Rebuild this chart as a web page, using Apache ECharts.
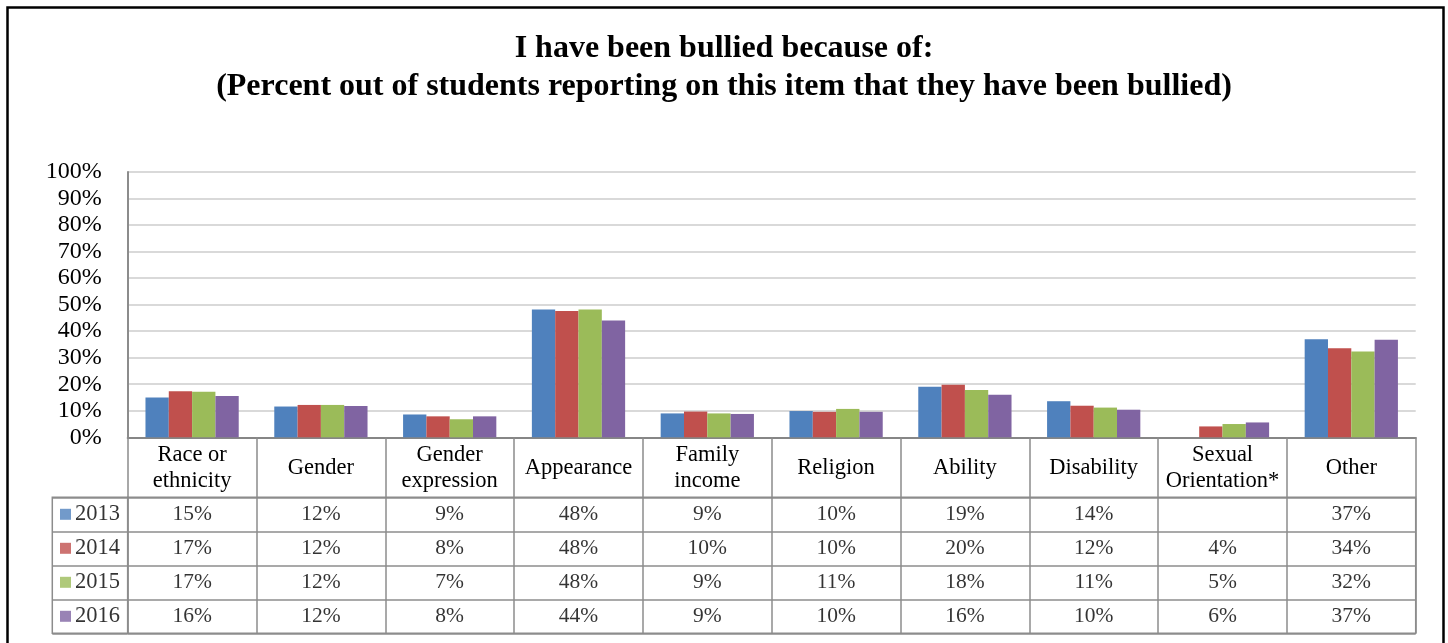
<!DOCTYPE html>
<html>
<head>
<meta charset="utf-8">
<script src="https://cdn.jsdelivr.net/npm/echarts@6/dist/echarts.min.js"></script>
<style>
  html, body { margin: 0; padding: 0; background: #fff; }
  #chart { width: 1448px; height: 643px; }
</style>
</head>
<body>
<div id="chart"></div>
<script>
// ---- data ----
const categories = ['Race or\nethnicity', 'Gender', 'Gender\nexpression', 'Appearance', 'Family\nincome',
                    'Religion', 'Ability', 'Disability', 'Sexual\nOrientation*', 'Other'];
const years = ['2013', '2014', '2015', '2016'];
const v2013 = [15.0, 11.6, 8.6, 48.2, 9.0, 9.9, 19.1, 13.6, null, 37.0];
const v2014 = [17.4, 12.2, 7.9, 47.6, 9.7, 9.6, 19.8, 11.9, 4.1, 33.6];
const v2015 = [17.2, 12.2, 6.8, 48.2, 9.0, 10.7, 17.8, 11.2, 5.0, 32.3];
const v2016 = [15.6, 11.8, 7.9, 44.0, 8.8, 9.6, 16.0, 10.4, 5.6, 36.8];
const seriesValues = [v2013, v2014, v2015, v2016];
const colors = ['#4F81BD', '#C0504D', '#9BBB59', '#8064A2'];
const titleText = 'I have been bullied because of:\n(Percent out of students reporting on this item that they have been bullied)';

// ---- layout ----
const W = 1448, H = 643;
const plotLeft = 127.7, plotRight = 1415.7, plotTop = 172, axisY = 437.3;
const headerBottom = 497.3, tableBottom = 633.3, legendLeft = 52.3;
const FONT = '"Liberation Serif", "Times New Roman", serif';
const tableLine = '#8c8c8c';

const chart = echarts.init(document.getElementById('chart'), null, { renderer: 'canvas' });

const tableData = [];
seriesValues.forEach((vals, r) => {
  vals.forEach((v, c) => { if (v !== null) tableData.push([c, r, v]); });
});
const legendData = years.map((y, r) => [0, r, r]);

const rich = {
  t: { fontFamily: FONT, fontSize: 22.5, color: '#000' },
  gap: { width: 4 }
};
colors.forEach((c, i) => { rich['sq' + i] = { width: 11, height: 11, backgroundColor: c }; });

const option = {
  animation: false,
  backgroundColor: '#fff',
  title: {
    text: titleText,
    left: W / 2,
    top: 30,
    padding: 0,
    textAlign: 'center',
    textStyle: { fontFamily: FONT, fontSize: 32, fontWeight: 'bold', color: '#000', lineHeight: 38 }
  },
  graphic: [{
    type: 'rect', silent: true,
    shape: { x: 7.5, y: 7.5, width: 1436, height: 700 },
    style: { fill: 'none', stroke: '#000', lineWidth: 2.5 }
  }],
  grid: [
    { left: plotLeft, right: W - plotRight, top: plotTop, bottom: H - axisY },
    { left: plotLeft, right: W - plotRight, top: headerBottom, bottom: H - tableBottom,
      show: true, borderColor: tableLine, borderWidth: 1.5 },
    { left: legendLeft, right: W - plotLeft, top: headerBottom, bottom: H - tableBottom,
      show: true, borderColor: tableLine, borderWidth: 1.5 }
  ],
  xAxis: [
    {
      type: 'category', gridIndex: 0, data: categories,
      axisLine: { show: true, lineStyle: { color: '#868686', width: 2 } },
      axisTick: { show: true, length: headerBottom - axisY, interval: 0, lineStyle: { color: tableLine, width: 1.5 } },
      axisLabel: { interval: 0, margin: 31, verticalAlign: 'middle', fontFamily: FONT, fontSize: 22.5, lineHeight: 26, color: '#000', align: 'center' },
      splitLine: { show: false }
    },
    {
      type: 'category', gridIndex: 1, data: categories,
      axisLine: { show: false }, axisTick: { show: false }, axisLabel: { show: false },
      splitLine: { show: true, interval: 0, lineStyle: { color: tableLine, width: 1.5 } }
    },
    {
      type: 'category', gridIndex: 2, data: [''],
      axisLine: { show: false }, axisTick: { show: false }, axisLabel: { show: false },
      splitLine: { show: false }
    }
  ],
  yAxis: [
    {
      type: 'value', gridIndex: 0, min: 0, max: 100, interval: 10,
      axisLine: { show: true, lineStyle: { color: '#8c8c8c', width: 2 } },
      axisTick: { show: false },
      axisLabel: { formatter: '{value}%', margin: 26, fontFamily: FONT, fontSize: 24, color: '#000' },
      splitLine: { show: true, lineStyle: { color: '#cccccc', width: 1.5 } }
    },
    {
      type: 'category', gridIndex: 1, data: years, inverse: true,
      axisLine: { show: false }, axisTick: { show: false }, axisLabel: { show: false },
      splitLine: { show: true, interval: 0, lineStyle: { color: tableLine, width: 1.5 } }
    },
    {
      type: 'category', gridIndex: 2, data: years, inverse: true,
      axisLine: { show: false }, axisTick: { show: false }, axisLabel: { show: false },
      splitLine: { show: true, interval: 0, lineStyle: { color: tableLine, width: 1.5 } }
    }
  ],
  series: [
    ...years.map((y, i) => ({
      name: y, type: 'bar', xAxisIndex: 0, yAxisIndex: 0,
      data: seriesValues[i],
      barGap: '0%', barCategoryGap: '27.6%',
      itemStyle: { color: colors[i] }
    })),
    {
      type: 'scatter', xAxisIndex: 1, yAxisIndex: 1, data: tableData,
      symbolSize: 1, itemStyle: { color: 'transparent' }, silent: true,
      label: {
        show: true, position: 'inside',
        formatter: p => Math.round(p.value[2]) + '%',
        fontFamily: FONT, fontSize: 21.5, color: '#000'
      }
    },
    {
      type: 'scatter', xAxisIndex: 2, yAxisIndex: 2, data: legendData,
      symbolSize: 1, itemStyle: { color: 'transparent' }, silent: true,
      label: {
        show: true, position: 'inside',
        formatter: p => '{sq' + p.value[2] + '|}{gap|}{t|' + years[p.value[2]] + '}',
        rich: rich
      }
    }
  ]
};
chart.setOption(option);
</script>
</body>
</html>
